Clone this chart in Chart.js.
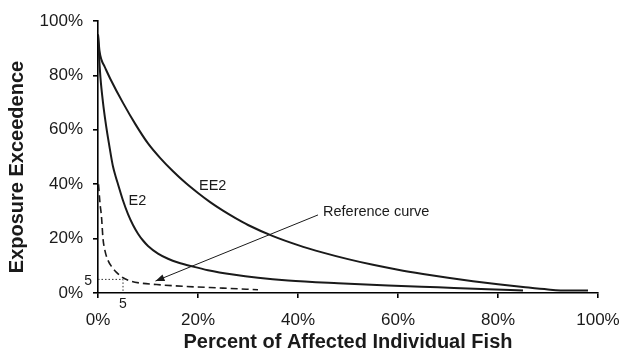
<!DOCTYPE html>
<html>
<head>
<meta charset="utf-8">
<script src="https://cdn.jsdelivr.net/npm/chart.js@4.4.1/dist/chart.umd.min.js"></script>
<style>
  html, body { margin: 0; padding: 0; background: #fff; }
  #wrap { width: 620px; height: 357px; }
</style>
</head>
<body>
<div id="wrap"><canvas id="c" width="620" height="357"></canvas></div>
<script>
// Exceedence curves: [percent of affected fish, exposure exceedence %]
const ee2Curve = [
  [0, 95], [0.3, 89], [0.7, 85.7], [1.3, 83.3], [2.5, 78.6], [5, 69.9],
  [7.5, 62], [10, 55], [12.5, 49.5], [15, 44.75], [17.5, 40.5], [20, 36.75],
  [22.5, 33.3], [25, 30.25], [27.5, 27.5], [30, 25], [35, 20.9], [40, 17.6],
  [45, 14.85], [50, 12.45], [55, 10.35], [60, 8.55], [65, 7], [70, 5.6],
  [75, 4.35], [80, 3.2], [85, 2.2], [90, 1.3], [94, 0.9], [98, 0.9]
];
const e2Curve = [
  [0, 95], [0.25, 86], [0.5, 79], [1, 70], [1.5, 63], [2, 57], [2.5, 51.5],
  [3, 46.5], [3.5, 43], [4, 40], [5, 34], [6, 29], [7, 25], [8, 21.8],
  [9, 19.3], [10, 17.3], [12, 14.5], [14, 12.6], [16, 11.2], [19, 9.7],
  [22, 8.4], [27, 6.8], [32, 5.6], [38, 4.6], [48, 3.6], [58, 2.8],
  [68, 2.1], [78, 1.4], [85, 0.9]
];
const referenceCurve = [
  [0.1, 40], [0.4, 33], [0.7, 28], [1, 20], [1.4, 15.5], [2, 12], [2.8, 9.5],
  [3.7, 7.6], [5, 5.6], [6.5, 4.4], [8.3, 3.7], [11.7, 3.1], [17.7, 2.4],
  [25, 1.8], [32, 1.2]
];
// 5% / 5% guide
const guideLevel = 5;
const guideLines = [[0, guideLevel], [guideLevel, guideLevel], [guideLevel, 0]];
// callout arrow: from the label down to the reference curve
const arrowFrom = [44, 28.7];
const arrowTo = [11.5, 4.4];
const curveLabels = [
  { text: 'EE2', x: 20.2, y: 39.5 },
  { text: 'E2', x: 6.1, y: 33.8 },
  { text: 'Reference curve', x: 45, y: 29.8 }
];
const tickValues = [0, 20, 40, 60, 80, 100];
const xTitle = 'Percent of Affected Individual Fish';
const yTitle = 'Exposure Exceedence';

const toPts = arr => arr.map(([x, y]) => ({ x, y }));
const FONT = "'Liberation Sans', Arial, sans-serif";
const INK = '#1a1a1a';

const annotations = {
  id: 'annotations',
  afterDatasetsDraw(chart) {
    const { ctx, scales: { x, y } } = chart;
    ctx.save();
    // arrowhead at the reference curve
    const x0 = x.getPixelForValue(arrowFrom[0]), y0 = y.getPixelForValue(arrowFrom[1]);
    const x1 = x.getPixelForValue(arrowTo[0]), y1 = y.getPixelForValue(arrowTo[1]);
    const ang = Math.atan2(y1 - y0, x1 - x0);
    const L = 9, W = 3.5;
    ctx.fillStyle = INK;
    ctx.beginPath();
    ctx.moveTo(x1, y1);
    ctx.lineTo(x1 - L * Math.cos(ang) + W * Math.sin(ang), y1 - L * Math.sin(ang) - W * Math.cos(ang));
    ctx.lineTo(x1 - L * Math.cos(ang) - W * Math.sin(ang), y1 - L * Math.sin(ang) + W * Math.cos(ang));
    ctx.closePath();
    ctx.fill();
    // curve names
    ctx.font = '14.5px ' + FONT;
    ctx.textAlign = 'left';
    ctx.textBaseline = 'middle';
    curveLabels.forEach(l => {
      ctx.fillText(l.text, x.getPixelForValue(l.x), y.getPixelForValue(l.y));
    });
    // guide values
    ctx.font = '14px ' + FONT;
    ctx.textAlign = 'right';
    ctx.textBaseline = 'middle';
    ctx.fillText(String(guideLevel), x.getPixelForValue(0) - 6, y.getPixelForValue(guideLevel) + 2);
    ctx.textAlign = 'center';
    ctx.textBaseline = 'top';
    ctx.fillText(String(guideLevel), x.getPixelForValue(guideLevel), y.getPixelForValue(0) + 4);
    // vertical axis title
    ctx.font = 'bold 20px ' + FONT;
    ctx.textAlign = 'center';
    ctx.textBaseline = 'middle';
    ctx.translate(17, (y.top + y.bottom) / 2 + 10);
    ctx.rotate(-Math.PI / 2);
    ctx.fillText(yTitle, 0, 0);
    ctx.restore();
  }
};

new Chart(document.getElementById('c'), {
  type: 'line',
  data: {
    datasets: [
      { label: 'EE2', data: toPts(ee2Curve), borderColor: INK, borderWidth: 2, pointRadius: 0, cubicInterpolationMode: 'monotone' },
      { label: 'E2', data: toPts(e2Curve), borderColor: INK, borderWidth: 2, pointRadius: 0, cubicInterpolationMode: 'monotone' },
      { label: 'Reference curve', data: toPts(referenceCurve), borderColor: INK, borderWidth: 1.6, borderDash: [7, 4], pointRadius: 0, cubicInterpolationMode: 'monotone' },
      { label: 'guide', data: toPts(guideLines), borderColor: '#333', borderWidth: 1, borderDash: [1.5, 2], pointRadius: 0, tension: 0 },
      { label: 'arrow', data: toPts([arrowFrom, arrowTo]), borderColor: INK, borderWidth: 1, pointRadius: 0, tension: 0 }
    ]
  },
  options: {
    responsive: false,
    animation: false,
    layout: { padding: { top: 21, right: 22, bottom: 0, left: 0 } },
    plugins: { legend: { display: false }, tooltip: { enabled: false } },
    scales: {
      x: {
        type: 'linear', min: 0, max: 100,
        afterBuildTicks: s => { s.ticks = tickValues.map(v => ({ value: v })); },
        afterFit: s => { s.height = 64; s.paddingLeft = 0; s.paddingRight = 0; },
        border: { display: true, color: '#000', width: 1.6 },
        grid: { display: true, drawOnChartArea: false, drawTicks: true, tickLength: 5, color: '#000', lineWidth: 1.6 },
        ticks: { color: INK, font: { family: FONT, size: 17 }, padding: 12, callback: v => v + '%', maxRotation: 0 },
        title: { display: true, text: xTitle, color: INK, font: { family: FONT, size: 20, weight: 'bold' }, padding: { top: 0, bottom: 3 } }
      },
      y: {
        type: 'linear', min: 0, max: 100,
        afterBuildTicks: s => { s.ticks = tickValues.map(v => ({ value: v })); },
        afterFit: s => { s.width = 98; s.paddingTop = 0; s.paddingBottom = 0; },
        border: { display: true, color: '#000', width: 1.6 },
        grid: { display: true, drawOnChartArea: false, drawTicks: true, tickLength: 5, color: '#000', lineWidth: 1.6 },
        ticks: { color: INK, font: { family: FONT, size: 17 }, padding: 10, callback: v => v + '%' },
        title: { display: false, text: yTitle }
      }
    }
  },
  plugins: [annotations]
});
</script>
</body>
</html>
